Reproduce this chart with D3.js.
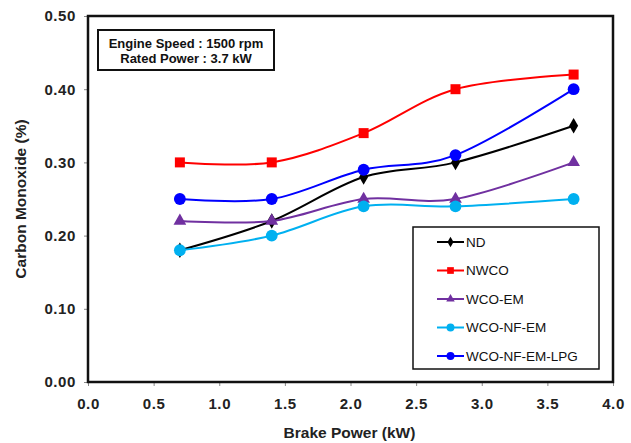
<!DOCTYPE html>
<html>
<head>
<meta charset="utf-8">
<script src="https://cdn.jsdelivr.net/npm/d3@7"></script>
<style>
  body { margin: 0; background: #fff; }
  svg { font-family: "Liberation Sans", Arial, sans-serif; }
  .axis text { font-size: 15px; font-weight: bold; fill: #222; letter-spacing: 0.6px; }
  .axis path { display: none; }
  .axis line { stroke: #888; }
</style>
</head>
<body>
<div id="chart"></div>
<script>
// data
const brakePower = [0.7, 1.4, 2.1, 2.8, 3.7];
const nd = [0.18, 0.22, 0.28, 0.30, 0.35];
const nwco = [0.30, 0.30, 0.34, 0.40, 0.42];
const wcoEm = [0.22, 0.22, 0.25, 0.25, 0.30];
const wcoNfEm = [0.18, 0.20, 0.24, 0.24, 0.25];
const wcoNfEmLpg = [0.25, 0.25, 0.29, 0.31, 0.40];
const xTicks = [0, 0.5, 1, 1.5, 2, 2.5, 3, 3.5, 4];
const yTicks = [0, 0.1, 0.2, 0.3, 0.4, 0.5];

const series = [
    { name: "ND", values: nd, color: "#000000", symbol: d3.symbolDiamond, size: 70 },
    { name: "NWCO", values: nwco, color: "#ff0000", symbol: d3.symbolSquare, size: 100 },
    { name: "WCO-EM", values: wcoEm, color: "#7030a0", symbol: d3.symbolTriangle, size: 70 },
    { name: "WCO-NF-EM", values: wcoNfEm, color: "#00b0f0", symbol: d3.symbolCircle, size: 110 },
    { name: "WCO-NF-EM-LPG", values: wcoNfEmLpg, color: "#0000ff", symbol: d3.symbolCircle, size: 110 }
];

const width = 631, height = 443;
const margin = { top: 16, right: 18, bottom: 61, left: 88 };
const w = width - margin.left - margin.right;
const h = height - margin.top - margin.bottom;

const svg = d3.select("#chart").append("svg")
    .attr("width", width)
    .attr("height", height);

const g = svg.append("g").attr("transform", `translate(${margin.left},${margin.top})`);

const x = d3.scaleLinear().domain([0, 4]).range([0, w]);
const y = d3.scaleLinear().domain([0, 0.5]).range([h, 0]);

g.append("g").attr("class", "axis")
    .attr("transform", `translate(0,${h})`)
    .call(d3.axisBottom(x).tickValues(xTicks).tickSize(4).tickPadding(12).tickFormat(d3.format(".1f")));

g.append("g").attr("class", "axis")
    .call(d3.axisLeft(y).tickValues(yTicks).tickSize(4).tickPadding(8).tickFormat(d3.format(".2f")));

// plot frame
g.append("rect")
    .attr("width", w).attr("height", h)
    .attr("fill", "none").attr("stroke", "#111").attr("stroke-width", 2.5);

const line = d3.line()
    .x((d, i) => x(brakePower[i]))
    .y(d => y(d))
    .curve(d3.curveCatmullRom.alpha(0));

series.forEach(s => {
    g.append("path")
        .datum(s.values)
        .attr("fill", "none")
        .attr("stroke", s.color)
        .attr("stroke-width", 2)
        .attr("d", line);
    g.selectAll(null)
        .data(s.values)
        .join("path")
        .attr("transform", (d, i) => `translate(${x(brakePower[i])},${y(d)})`)
        .attr("d", d3.symbol().type(s.symbol).size(s.size))
        .attr("fill", s.color);
});

// annotation box
const note = g.append("g").attr("transform", "translate(10,14)");
note.append("rect").attr("width", 176).attr("height", 40)
    .attr("fill", "#fff").attr("stroke", "#111").attr("stroke-width", 2);
note.append("text").attr("x", 88).attr("y", 18).attr("text-anchor", "middle")
    .attr("font-size", 13).attr("font-weight", "bold").attr("fill", "#111").text("Engine Speed : 1500 rpm");
note.append("text").attr("x", 88).attr("y", 33).attr("text-anchor", "middle")
    .attr("font-size", 13).attr("font-weight", "bold").attr("fill", "#111").text("Rated Power : 3.7 kW");

// legend
const legend = g.append("g").attr("transform", `translate(${413 - margin.left},${227 - margin.top})`);
legend.append("rect").attr("width", 186).attr("height", 142)
    .attr("fill", "#fff").attr("stroke", "#111").attr("stroke-width", 1.5);
series.forEach((s, i) => {
    const row = legend.append("g").attr("transform", `translate(0,${15 + i * 28.5})`);
    row.append("line").attr("x1", 24).attr("x2", 51).attr("stroke", s.color).attr("stroke-width", 2);
    row.append("path").attr("transform", "translate(37.5,0)")
        .attr("d", d3.symbol().type(s.symbol).size(s.size * 0.45))
        .attr("fill", s.color);
    row.append("text").attr("x", 53).attr("dy", "0.35em")
        .attr("font-size", 13.5).attr("fill", "#111").text(s.name);
});

// axis titles
svg.append("text")
    .attr("x", margin.left + w / 2 - 1).attr("y", 438)
    .attr("text-anchor", "middle")
    .attr("font-size", 15.5).attr("font-weight", "bold").attr("fill", "#222")
    .text("Brake Power (kW)");
svg.append("text")
    .attr("transform", `translate(26,${margin.top + h / 2}) rotate(-90)`)
    .attr("text-anchor", "middle")
    .attr("font-size", 15.5).attr("font-weight", "bold").attr("fill", "#222")
    .text("Carbon Monoxide (%)");
</script>
</body>
</html>
